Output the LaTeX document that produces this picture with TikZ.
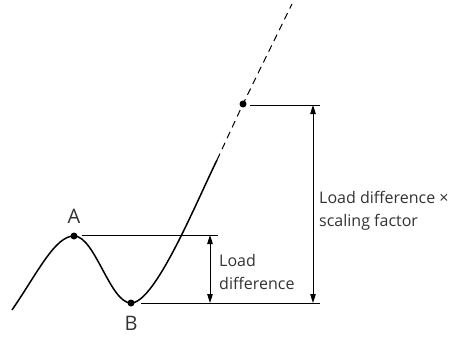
\documentclass[tikz,border=0pt]{standalone}
\usepackage{fontspec}
\setmainfont{Open Sans}
\usetikzlibrary{arrows.meta,positioning}

\begin{document}
\begin{tikzpicture}[
  x=1pt, y=-1pt,
  curveline/.style={line width=1.5pt},
  refline/.style={line width=1pt},
  dimarrow/.style={{Triangle[length=9pt,width=5.5pt]}-{Triangle[length=9pt,width=5.5pt]}, line width=1pt},
  dot/.style={circle, fill=black, inner sep=0pt, minimum size=7pt},
  lbl/.style={font=\fontsize{16}{23}\selectfont, text=black!80, align=left, inner sep=0pt},
  ptlbl/.style={font=\fontsize{20}{24}\selectfont, text=black!80, inner sep=0pt},
]
\useasboundingbox (0,0) rectangle (462,342);

% points on the curve
\coordinate (start) at (12,310);
\node[dot] (A) at (74,236) {};
\node[dot] (B) at (131,303) {};
\coordinate (bend) at (217,160);
\node[dot] (C) at (243,104) {};
\coordinate (tip) at (292,4);

% curve
\draw[curveline] (start) .. controls (38,272) and (55,236) .. (A.center)
  .. controls (95,236) and (110,303) .. (B.center)
  .. controls (155,303) and (195,205) .. (bend);
\draw[refline, dash pattern=on 7pt off 5pt] (bend) -- (C.center) -- (tip);

% reference lines
\coordinate (a1) at (82,235);
\coordinate (a2) at (218,235);
\coordinate (b1) at (141,303);
\coordinate (b2) at (320,303);
\coordinate (c1) at (250,105);
\coordinate (c2) at (320,105);
\draw[refline] (a1) -- (a2);
\draw[refline] (b1) -- (b2);
\draw[refline] (c1) -- (c2);

% dimension arrows
\draw[dimarrow] (210,235) -- (210,303);
\draw[dimarrow] (313,105) -- (313,303);

% labels
\node[ptlbl, above=9pt of A] (labA) {A};
\node[ptlbl, below=9pt of B] (labB) {B};
\node[lbl, anchor=west] (diff) at (219,272) {Load\\difference};
\node[lbl, anchor=west] (scaled) at (319,211) {Load difference ×\\scaling factor};

\end{tikzpicture}
\end{document}
